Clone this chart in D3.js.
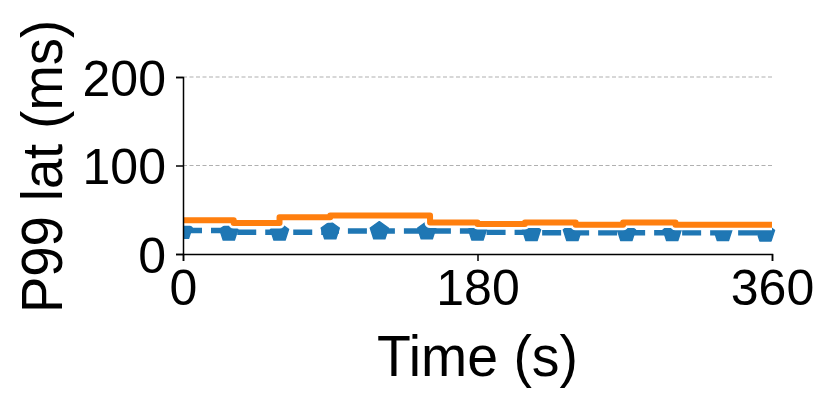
<!DOCTYPE html>
<html><head><meta charset="utf-8">
<script src="https://cdn.jsdelivr.net/npm/d3@7/dist/d3.min.js"></script>
<style>body{margin:0;background:#fff}svg{display:block}text{font-family:"Liberation Sans",Arial,sans-serif;fill:#000}</style>
</head><body>
<svg id="c" width="830" height="407"></svg>
<script>
// Data
const xTicks = [0, 180, 360];
const yTicks = [0, 100, 200];
const orangeTimes = [0, 31, 59, 90, 120, 151, 180, 209, 240, 269, 301, 360];
const orangeVals  = [38, 35, 41.5, 43.5, 43.5, 35.5, 34, 35.5, 33, 35.5, 33, 33];
const blueTimes = [0, 28, 59, 90, 120, 149, 180, 213, 238, 271, 299, 330, 356, 360];
const blueVals  = [26.5, 24.5, 24.5, 26, 26, 26, 24.5, 24, 24, 24, 24, 24, 23.5, 23.5];
const blueMarkerCount = 13;

const svg = d3.select("#c");
const m = {l:183, r:772, t:77, b:254};
const x = d3.scaleLinear().domain([0,360]).range([m.l, m.r]);
const y = d3.scaleLinear().domain([0,200]).range([m.b, m.t]);

svg.append("clipPath").attr("id","clip").append("rect")
  .attr("x", m.l).attr("y", 0).attr("width", m.r-m.l+4).attr("height", m.b);

// grid
svg.append("g").selectAll("line").data(yTicks.filter(d=>d>0)).join("line")
  .attr("x1", m.l).attr("x2", m.r).attr("y1", d=>y(d)).attr("y2", d=>y(d))
  .attr("stroke", "#b0b0b0").attr("stroke-width", 1.1).attr("stroke-dasharray", "4,2.5");

const plot = svg.append("g").attr("clip-path","url(#clip)");

const blue = blueTimes.map((t,i)=>({t, v: blueVals[i]}));
const orange = orangeTimes.map((t,i)=>({t, v: orangeVals[i]}));
const line = d3.line().x(d=>x(d.t)).y(d=>y(d.v)).curve(d3.curveStepAfter);

// blue dashed line
plot.append("path").attr("d", line(blue)).attr("fill","none")
  .attr("stroke","#1f77b4").attr("stroke-width",5.5).attr("stroke-dasharray","19,9");
// blue pentagon markers
const r = 9.5;
const pent = d3.range(5).map(k=>{const a = -Math.PI/2 + k*2*Math.PI/5; return [r*Math.cos(a), r*Math.sin(a)];});
plot.append("g").selectAll("path").data(blue.slice(0, blueMarkerCount)).join("path")
  .attr("d", "M" + pent.map(p=>p.join(",")).join("L") + "Z")
  .attr("transform", d=>`translate(${x(d.t)},${y(d.v)})`)
  .attr("fill","#1f77b4").attr("stroke","#1f77b4").attr("stroke-width",1.5).attr("stroke-linejoin","round");

// orange line with white halo
plot.append("path").attr("d", line(orange)).attr("fill","none")
  .attr("stroke","#fff").attr("stroke-width",11).attr("stroke-linejoin","round");
plot.append("path").attr("d", line(orange)).attr("fill","none")
  .attr("stroke","#ff7f0e").attr("stroke-width",6).attr("stroke-linejoin","round").attr("stroke-linecap","butt");

// axes
const gx = svg.append("g").attr("transform", `translate(0,${m.b})`)
  .call(d3.axisBottom(x).tickValues(xTicks).tickSize(7).tickPadding(6).tickFormat(d3.format("d")));
const gy = svg.append("g").attr("transform", `translate(${m.l},0)`)
  .call(d3.axisLeft(y).tickValues(yTicks).tickSize(7).tickPadding(10).tickFormat(d3.format("d")));
[gx, gy].forEach(g=>{
  g.select(".domain").attr("stroke","#000").attr("stroke-width",1.5);
  g.selectAll(".tick line").attr("stroke","#000").attr("stroke-width",1.5);
  g.selectAll("text").attr("font-size", 50).attr("font-family", '"Liberation Sans",Arial,sans-serif').attr("fill","#000");
});
gx.selectAll("text").attr("dy", null).attr("y", 51);
gy.selectAll("text").attr("dy", null).attr("y", 18).attr("x", -17);

// axis labels
svg.append("text").attr("x", 477.5).attr("y", 376).attr("text-anchor","middle")
  .attr("font-size", 58).attr("textLength", 201).attr("lengthAdjust","spacingAndGlyphs").text("Time (s)");
svg.append("text").attr("transform","translate(62,166.5) rotate(-90)").attr("text-anchor","middle")
  .attr("font-size", 58).attr("textLength", 293).attr("lengthAdjust","spacingAndGlyphs").text("P99 lat (ms)");
</script>
</body></html>
